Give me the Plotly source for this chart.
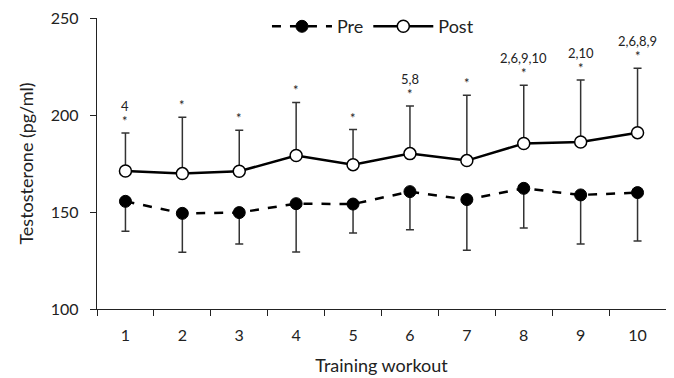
import plotly.graph_objects as go

workouts = [1, 2, 3, 4, 5, 6, 7, 8, 9, 10]
pre_mean = [155.5, 149.3, 149.7, 154.3, 154.1, 160.5, 156.4, 162.2, 158.8, 160.0]
pre_lower = [140.1, 129.2, 133.5, 129.4, 139.2, 140.9, 130.3, 141.8, 133.5, 135.1]
post_mean = [171.1, 169.8, 171.0, 179.1, 174.4, 180.1, 176.5, 185.3, 186.1, 190.9]
post_upper = [190.7, 198.8, 192.1, 206.5, 192.5, 204.6, 210.2, 215.3, 218.0, 224.1]
sig_labels = ["4", "", "", "", "", "5,8", "", "2,6,9,10", "2,10", "2,6,8,9"]

pre_err = [m - l for m, l in zip(pre_mean, pre_lower)]
post_err = [u - m for m, u in zip(post_mean, post_upper)]

FONT = "Lato, 'Open Sans', sans-serif"

fig = go.Figure()
fig.add_trace(go.Scatter(
    x=workouts, y=pre_mean, name="Pre", mode="lines+markers",
    line=dict(color="black", width=2.5, dash="dash"),
    marker=dict(size=12, color="black", line=dict(color="black", width=1)),
    error_y=dict(type="data", array=[0]*10, arrayminus=pre_err, symmetric=False,
                 color="#333333", thickness=1.5, width=4),
))
fig.add_trace(go.Scatter(
    x=workouts, y=post_mean, name="Post", mode="lines+markers",
    line=dict(color="black", width=2.5),
    marker=dict(size=12, color="white", line=dict(color="black", width=1.5)),
    error_y=dict(type="data", array=post_err, arrayminus=[0]*10, symmetric=False,
                 color="#333333", thickness=1.5, width=4),
))

for x, top, lab in zip(workouts, post_upper, sig_labels):
    fig.add_annotation(x=x, y=top, text="*", showarrow=False, yanchor="bottom",
                       yshift=2, font=dict(size=13, color="#222", family=FONT))
    if lab:
        fig.add_annotation(x=x, y=top, text=lab, showarrow=False, yanchor="bottom",
                           yshift=17, font=dict(size=13, color="#222", family=FONT))

fig.update_layout(
    width=666, height=370,
    margin=dict(l=89, r=8, t=10, b=69, autoexpand=False),
    paper_bgcolor="white", plot_bgcolor="white",
    font=dict(family=FONT, color="#222", size=15),
    showlegend=True,
    legend=dict(orientation="h", x=0.485, xanchor="center", y=1.034, yanchor="top",
                font=dict(size=18), itemwidth=60, bgcolor="rgba(0,0,0,0)"),
    xaxis=dict(range=[0.5, 10.5], tickmode="array", tickvals=workouts,
               ticktext=[str(w) for w in workouts], ticks="",
               showline=True, linecolor="#222", linewidth=1.3, showgrid=False,
               zeroline=False, tickfont=dict(size=16), ticklabelstandoff=12,
               minor=dict(tickvals=[i + 0.5 for i in range(0, 11)], ticks="outside",
                          ticklen=6, tickcolor="#222", showgrid=False),
               title=dict(text="Training workout", font=dict(size=18), standoff=16)),
    yaxis=dict(range=[100, 250], tickvals=[100, 150, 200, 250], ticks="outside",
               ticklen=6, tickcolor="#222", showline=True, linecolor="#222",
               linewidth=1.3, showgrid=False, zeroline=False, tickfont=dict(size=16),
               ticklabelstandoff=8, ticklabeloverflow="allow",
               title=dict(text="Testosterone (pg/ml)", font=dict(size=18), standoff=12)),
)

fig.write_html("out.html")
